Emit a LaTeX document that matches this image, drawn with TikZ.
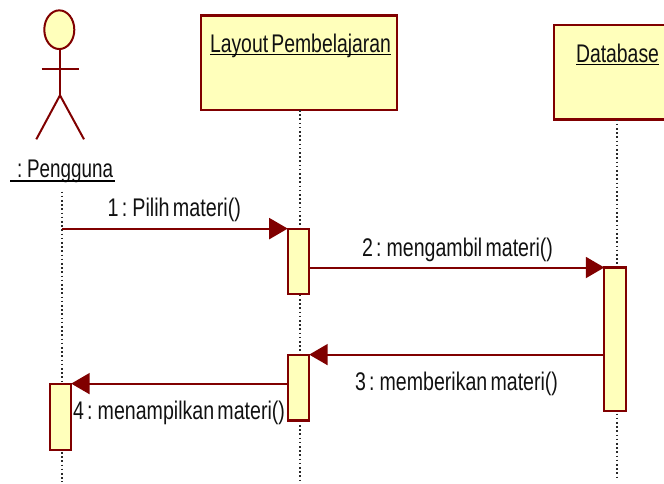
\documentclass[tikz,border=0pt]{standalone}
\usepackage{fontspec}
\usepackage{graphicx}
\setmainfont[WordSpace=0.6]{Liberation Sans}
\usetikzlibrary{arrows.meta,shapes.geometric}
\definecolor{umlred}{HTML}{800000}
\definecolor{umlfill}{HTML}{FFFFBB}
\definecolor{umltext}{HTML}{111111}
\newcommand{\fit}[2]{\resizebox{#1pt}{\height}{\fontsize{25.5}{27}\selectfont #2}}
\tikzset{
  x=1pt,y=-1pt,
  objbox/.style={draw=umlred,fill=umlfill,line width=2.2pt,anchor=north west,inner sep=0pt,outer sep=0pt},
  actbox/.style={draw=umlred,fill=umlfill,line width=2.2pt,anchor=north west,inner sep=0pt,outer sep=0pt,minimum width=21.5pt},
  lifeline/.style={draw=umltext!90,line width=1.5pt,dash pattern=on 1.6pt off 2.6pt},
  msg/.style={draw=umlred,line width=2pt,-{Triangle[length=18.5pt,width=21pt,color=umlred]},shorten >=0pt},
  limb/.style={draw=umlred,line width=2pt},
  txt/.style={anchor=base west,inner sep=0pt,outer sep=0pt,text=umltext},
  uline/.style={draw=black,line width=1.6pt},
}
\begin{document}
\begin{tikzpicture}
\useasboundingbox (0,0) rectangle (664,483);
% coordinates of free ends
\coordinate (l1top) at (62,191.5);
\coordinate (l1end) at (62,482);
\coordinate (l2end) at (300,482);
\coordinate (l3end) at (617,478);
\coordinate (neck) at (60,50);
\coordinate (hip) at (60,95.3);
\coordinate (armL) at (41.7,68.5);
\coordinate (armR) at (79,68.5);
\coordinate (footL) at (36.3,139.3);
\coordinate (footR) at (84,139.3);
% objects
\node[objbox,minimum width=196pt,minimum height=94.5pt] (layout) at (201,15.5) {};
\node[objbox,minimum width=130pt,minimum height=94.5pt] (db) at (554,25) {};
% lifelines
\draw[lifeline] (l1top) -- (l1end);
\draw[lifeline] (l2end |- layout.south) -- (l2end);
\draw[lifeline] (l3end |- db.south) -- (l3end);
% actor
\draw[limb] (neck) -- (hip);
\draw[limb] (armL) -- (armR);
\draw[limb] (footL) -- (hip) -- (footR);
\node[draw=umlred,fill=umlfill,line width=2pt,ellipse,minimum width=30pt,minimum height=38.7pt,inner sep=0pt,outer sep=0pt] (head) at (59.3,29.7) {};
% activations
\node[actbox,minimum height=65.5pt] (a1) at (287.7,228.6) {};
\node[actbox,minimum height=143.5pt] (a2) at (604.3,267.5) {};
\node[actbox,minimum height=65.8pt] (a3) at (287.7,354.6) {};
\node[actbox,minimum height=66pt] (a4) at (49.7,383.6) {};
% messages
\draw[msg] (l1top |- a1.north west) -- (a1.north west);
\draw[msg] (a1.east |- a2.north west) -- (a2.north west);
\draw[msg] (a2.west |- a3.north east) -- (a3.north east);
\draw[msg] (a3.west |- a4.north east) -- (a4.north east);
% texts
\node[txt] (tp) at (17,177) {\fit{96}{: Pengguna}};
\node[txt] (tl) at (210,52) {\fit{181}{Layout Pembelajaran}};
\node[txt] (td) at (576,62) {\fit{83}{Database}};
\node[txt] (m1) at (107.5,216.5) {\fit{133.5}{1 : Pilih materi()}};
\node[txt] (m2) at (362,256) {\fit{191}{2 : mengambil materi()}};
\node[txt] (m3) at (355,390.5) {\fit{203}{3 : memberikan materi()}};
\node[txt] (m4) at (73,419) {\fit{212}{4 : menampilkan materi()}};
% underlines
\draw[uline] ([shift={(-7pt,-4pt)}]tp.base west) -- ([shift={(2pt,-4pt)}]tp.base east);
\draw[uline] ([yshift=-2.5pt]tl.base west) -- ([yshift=-2.5pt]tl.base east);
\draw[uline] ([yshift=-2.5pt]td.base west) -- ([yshift=-2.5pt]td.base east);
\end{tikzpicture}
\end{document}
